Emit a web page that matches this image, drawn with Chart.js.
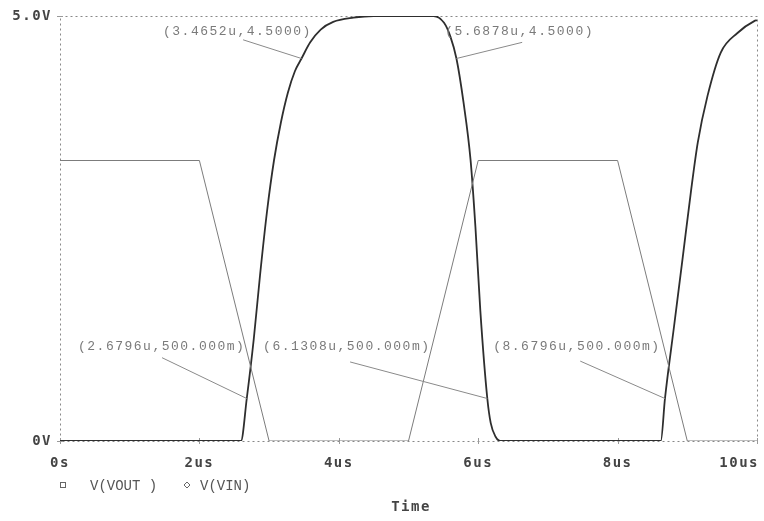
<!DOCTYPE html>
<html>
<head>
<meta charset="utf-8">
<script src="https://cdn.jsdelivr.net/npm/chart.js@4.4.1/dist/chart.umd.min.js"></script>
<style>
  body { margin: 0; background: #fff; }
  canvas { display: block; }
</style>
</head>
<body>
<canvas id="plot" width="764" height="521"></canvas>
<script>
// time in us, volts
const voutTime = [0, 2.596, 2.6796, 2.78, 2.87, 2.97, 3.07, 3.17, 3.27, 3.37, 3.4652, 3.59, 3.74, 3.92, 4.21, 4.5,
  5.36, 5.51, 5.60, 5.6878, 5.79, 5.89, 5.96, 6.03, 6.1308, 6.18, 6.25, 6.32,
  8.62, 8.6796, 8.81, 8.93, 9.05, 9.15, 9.29, 9.48, 9.72, 9.96, 10];
const voutVolts = [0, 0, 0.5, 1.2, 1.95, 2.7, 3.3, 3.75, 4.1, 4.35, 4.5, 4.69, 4.84, 4.93, 4.98, 5.0,
  5.0, 4.92, 4.76, 4.5, 3.98, 3.31, 2.52, 1.54, 0.5, 0.21, 0.05, 0,
  0, 0.5, 1.35, 2.13, 2.92, 3.51, 4.06, 4.57, 4.80, 4.94, 4.95];

const vinTime = [0, 2, 3, 5, 6, 8, 9, 10];
const vinVolts = [3.3, 3.3, 0, 0, 3.3, 3.3, 0, 0];

const xTicks = [0, 2, 4, 6, 8, 10];
const xTickLabels = ['0s', '2us', '4us', '6us', '8us', '10us'];
const yTicks = [0, 5];
const yTickLabels = ['0V', '5.0V'];

// cursor marks
const markTime = [3.4652, 5.6878, 2.6796, 6.1308, 8.6796];
const markVolt = [4.5, 4.5, 0.5, 0.5, 0.5];
const markText = ['(3.4652u,4.5000)', '(5.6878u,4.5000)', '(2.6796u,500.000m)', '(6.1308u,500.000m)', '(8.6796u,500.000m)'];

// where each mark's text and leader sit (data units)
const textAt = [[1.478, 4.82], [5.526, 4.82], [0.258, 1.107], [2.914, 1.107], [6.215, 1.107]];
const leaderFrom = [[2.627, 4.72], [6.631, 4.69], [1.464, 0.98], [4.162, 0.93], [7.464, 0.94]];

const pts = (xs, ys) => xs.map((x, i) => ({ x: x, y: ys[i] }));

const probePlugin = {
  id: 'probe',
  beforeDatasetsDraw(chart) {
    const ctx = chart.ctx;
    const a = chart.chartArea;
    const sx = chart.scales.x, sy = chart.scales.y;
    ctx.save();
    ctx.strokeStyle = '#888';
    ctx.lineWidth = 1;
    ctx.setLineDash([2, 3]);
    ctx.beginPath();
    ctx.moveTo(a.left + 0.5, a.top + 0.5);
    ctx.lineTo(a.right + 0.5, a.top + 0.5);
    ctx.lineTo(a.right + 0.5, a.bottom + 0.5);
    ctx.lineTo(a.left + 0.5, a.bottom + 0.5);
    ctx.closePath();
    ctx.stroke();
    ctx.setLineDash([]);
    ctx.strokeStyle = '#999';
    xTicks.forEach(t => {
      const px = Math.round(sx.getPixelForValue(t)) + 0.5;
      ctx.beginPath();
      ctx.moveTo(px, a.bottom - 3);
      ctx.lineTo(px, a.bottom + 3);
      ctx.stroke();
    });
    yTicks.forEach(v => {
      const py = Math.round(sy.getPixelForValue(v)) + 0.5;
      ctx.beginPath();
      ctx.moveTo(a.left - 3, py);
      ctx.lineTo(a.left + 3, py);
      ctx.stroke();
    });
    ctx.restore();
  },
  afterDatasetsDraw(chart) {
    const ctx = chart.ctx;
    const a = chart.chartArea;
    const sx = chart.scales.x, sy = chart.scales.y;
    ctx.save();

    // leaders + texts
    ctx.strokeStyle = '#8a8a8a';
    ctx.lineWidth = 1;
    markTime.forEach((t, i) => {
      ctx.beginPath();
      ctx.moveTo(sx.getPixelForValue(leaderFrom[i][0]), sy.getPixelForValue(leaderFrom[i][1]));
      ctx.lineTo(sx.getPixelForValue(t), sy.getPixelForValue(markVolt[i]));
      ctx.stroke();
    });
    ctx.fillStyle = '#7a7a7a';
    ctx.font = '13px "Liberation Mono"';
    ctx.letterSpacing = '1.5px';
    ctx.textAlign = 'left';
    ctx.textBaseline = 'middle';
    markText.forEach((s, i) => {
      ctx.fillText(s, sx.getPixelForValue(textAt[i][0]), sy.getPixelForValue(textAt[i][1]));
    });

    // axis labels
    ctx.fillStyle = '#444';
    ctx.font = 'bold 14px "DejaVu Sans Mono"';
    ctx.letterSpacing = '1.5px';
    ctx.textBaseline = 'middle';
    ctx.textAlign = 'right';
    yTicks.forEach((v, i) => {
      ctx.fillText(yTickLabels[i], a.left - 8, sy.getPixelForValue(v));
    });
    xTicks.forEach((t, i) => {
      const px = sx.getPixelForValue(t);
      const w = ctx.measureText(xTickLabels[i]).width;
      let left = px - w / 2;
      if (left + w > a.right + 2) left = a.right + 2 - w;
      ctx.textAlign = 'left';
      ctx.fillText(xTickLabels[i], left, a.bottom + 22);
    });
    ctx.textAlign = 'center';
    ctx.fillText('Time', 411, 507);

    // legend
    ctx.fillStyle = '#555';
    ctx.font = '14px "Liberation Mono"';
    ctx.letterSpacing = '0px';
    ctx.textAlign = 'left';
    ctx.strokeStyle = '#666';
    ctx.strokeRect(60.5, 482.5, 5, 5);
    ctx.fillText('V(VOUT )', 90, 486);
    ctx.beginPath();
    ctx.moveTo(187, 482); ctx.lineTo(190, 485); ctx.lineTo(187, 488); ctx.lineTo(184, 485); ctx.closePath();
    ctx.stroke();
    ctx.fillText('V(VIN)', 200, 486);
    ctx.restore();
  }
};

new Chart(document.getElementById('plot'), {
  type: 'line',
  data: {
    datasets: [
      {
        label: 'V(VIN)',
        data: pts(vinTime, vinVolts),
        borderColor: '#7c7c7c',
        borderWidth: 1,
        pointRadius: 0,
        tension: 0
      },
      {
        label: 'V(VOUT)',
        data: pts(voutTime, voutVolts),
        borderColor: '#2e2e2e',
        borderWidth: 1.8,
        pointRadius: 0,
        cubicInterpolationMode: 'monotone'
      }
    ]
  },
  options: {
    responsive: false,
    animation: false,
    layout: { padding: { left: 60, top: 16, right: 7, bottom: 80 } },
    plugins: { legend: { display: false }, tooltip: { enabled: false } },
    scales: {
      x: { type: 'linear', min: 0, max: 10, display: false },
      y: { type: 'linear', min: 0, max: 5, display: false }
    }
  },
  plugins: [probePlugin]
});
</script>
</body>
</html>
